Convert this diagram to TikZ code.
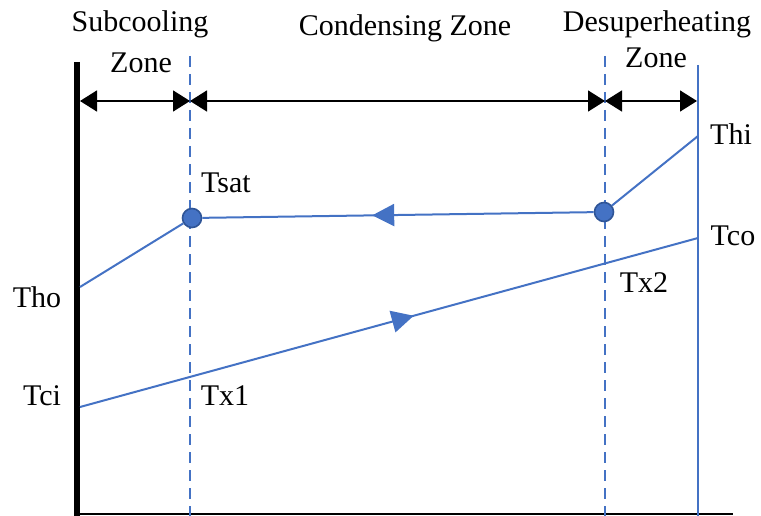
\documentclass[tikz,border=0pt]{standalone}
\usepackage{fontspec}
\setmainfont{Liberation Serif}
\usetikzlibrary{arrows.meta,decorations.markings}
\definecolor{lineblue}{HTML}{4472C4}
\definecolor{dotedge}{HTML}{2F5597}

\begin{document}
\begin{tikzpicture}[x=1pt,y=-1pt,
  lbl/.style={font=\fontsize{30}{36}\selectfont, inner sep=0pt, anchor=base},
  flow/.style={lineblue, line width=2pt},
  zoneline/.style={lineblue, line width=2pt, dash pattern=on 11pt off 7pt},
  spanarrow/.style={black, line width=1.6pt,
    {Triangle[length=17pt,width=21pt]}-{Triangle[length=17pt,width=21pt]}},
  dot/.style={circle, fill=lineblue, draw=dotedge, line width=1.6pt,
    minimum size=19pt, inner sep=0pt},
  midarrow/.style={postaction={decorate}, decoration={markings,
    mark=at position #1 with {\arrow{Triangle[length=22pt,width=22pt]}}}}
]
\useasboundingbox (0,0) rectangle (761,516);

% walls and zone boundaries
\coordinate (wallTop) at (77,62);
\coordinate (wallBot) at (77,516);
\coordinate (endTop) at (698,65);
\coordinate (endBot) at (698,516);
\coordinate (bA) at (190,56);
\coordinate (bA') at (190,516);
\coordinate (bB) at (605,56);
\coordinate (bB') at (605,516);
\coordinate (baseL) at (75,514);
\coordinate (baseR) at (733,514);

\draw[black, line width=5.5pt] (wallTop) -- (wallBot);
\draw[black, line width=2pt] (baseL) -- (baseR);
\draw[flow] (endTop) -- (endBot);
\draw[zoneline] (bA) -- (bA');
\draw[zoneline] (bB) -- (bB');

% zone extents
\coordinate (z0) at (80,101);
\coordinate (z1) at (190,101);
\coordinate (z2) at (605,101);
\coordinate (z3) at (697,101);
\draw[spanarrow] (z0) -- (z1);
\draw[spanarrow] (z1) -- (z2);
\draw[spanarrow] (z2) -- (z3);

% zone titles
\node[lbl] (tSub) at (140,32) {Subcooling};
\node[lbl] (tSubZ) at (141,73) {Zone};
\node[lbl] (tCond) at (405,36) {Condensing Zone};
\node[lbl] (tDes) at (657,32) {Desuperheating};
\node[lbl] (tDesZ) at (656,68) {Zone};

% hot stream
\coordinate (hotOut) at (80,287);
\coordinate (hotIn) at (698,136);
\node[dot] (sat1) at (192,218) {};
\node[dot] (sat2) at (604,212) {};
\draw[flow] (hotIn) -- (sat2);
\draw[flow, midarrow=0.566] (sat2) -- (sat1);
\draw[flow] (sat1) -- (hotOut);

% cold stream
\coordinate (coldIn) at (80,407);
\coordinate (coldOut) at (698,238);
\draw[flow, midarrow=0.54] (coldIn) -- (coldOut);

% temperature labels
\node[lbl] (lThi) at (731,145) {Thi};
\node[lbl] (lTsat) at (226,193) {Tsat};
\node[lbl] (lTco) at (733,245) {Tco};
\node[lbl] (lTx2) at (644,292) {Tx2};
\node[lbl] (lTho) at (37,307) {Tho};
\node[lbl] (lTci) at (42,405) {Tci};
\node[lbl] (lTx1) at (225,405) {Tx1};
\end{tikzpicture}
\end{document}
